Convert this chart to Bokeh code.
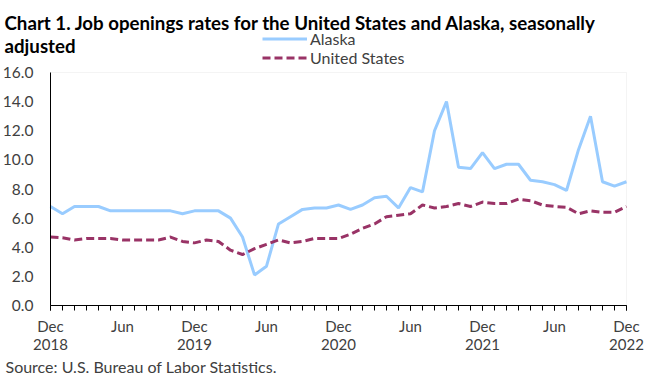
from bokeh.plotting import figure
from bokeh.models import (FixedTicker, Label, Legend, LegendItem, NumeralTickFormatter,
                          ColumnDataSource, LinearAxis, BoxAnnotation)
from bokeh.embed import file_html
from bokeh.resources import INLINE

# Monthly data, Dec 2018 .. Dec 2022
alaska = [6.8, 6.3, 6.8, 6.8, 6.8, 6.5, 6.5, 6.5, 6.5, 6.5, 6.5, 6.3,
          6.5, 6.5, 6.5, 6.0, 4.7, 2.1, 2.7, 5.6, 6.1, 6.6, 6.7, 6.7,
          6.9, 6.6, 6.9, 7.4, 7.5, 6.7, 8.1, 7.8, 12.0, 14.0, 9.5, 9.4,
          10.5, 9.4, 9.7, 9.7, 8.6, 8.5, 8.3, 7.9, 10.7, 13.0, 8.5, 8.2,
          8.5]
united_states = [4.7, 4.65, 4.5, 4.6, 4.6, 4.6, 4.5, 4.5, 4.5, 4.5, 4.7, 4.4,
                 4.3, 4.5, 4.4, 3.8, 3.5, 3.9, 4.2, 4.5, 4.3, 4.4, 4.6, 4.6,
                 4.6, 4.9, 5.3, 5.6, 6.1, 6.2, 6.3, 6.9, 6.7, 6.8, 7.0, 6.8,
                 7.1, 7.0, 7.0, 7.3, 7.2, 6.9, 6.8, 6.75, 6.3, 6.5, 6.4, 6.4,
                 6.8]
month_labels = ["Dec", "Jun", "Dec", "Jun", "Dec", "Jun", "Dec", "Jun", "Dec"]
year_labels = ["2018", "2019", "2020", "2021", "2022"]
y_ticks = [0, 2, 4, 6, 8, 10, 12, 14, 16]

TITLE = "Chart 1. Job openings rates for the United States and Alaska, seasonally"
SOURCE = "Source: U.S. Bureau of Labor Statistics."

AK_COLOR = "#99ccff"
US_COLOR = "#993366"
US_DASH = "8 4"
FONT = "Lato"
TXT = "#404040"

months = list(range(len(alaska)))
src = ColumnDataSource(dict(m=months, ak=alaska, us=united_states))

W, H = 663, 375
LEFT, RIGHT = 50, 626          # pixel positions of the plot area
TOP, BOTTOM = 72, 305
m0, m1 = months[0], months[-1]
v0, v1 = y_ticks[0], y_ticks[-1]
px_per_m = (RIGHT - LEFT) / (m1 - m0)
px_per_v = (BOTTOM - TOP) / (v1 - v0)

# The frame covers the whole canvas; the axes sit at fixed locations inside it.
p = figure(width=W, height=H, output_backend="svg", toolbar_location=None,
           x_range=(m0 - LEFT / px_per_m, m1 + (W - RIGHT) / px_per_m),
           y_range=(v0 - (H - BOTTOM) / px_per_v, v1 + TOP / px_per_v),
           min_border=0, min_border_left=0, min_border_right=0,
           min_border_top=0, min_border_bottom=0,
           x_axis_type=None, y_axis_type=None)
p.outline_line_color = None
p.background_fill_color = "white"
p.border_fill_color = "white"

# plot-area border (light gray)
p.add_layout(BoxAnnotation(left=m0, right=m1, bottom=v0, top=v1, fill_color=None,
                           line_color="#d9d9d9", line_width=1, level="underlay",
                           editable=False))

ak = p.line("m", "ak", source=src, line_color=AK_COLOR, line_width=3)
us = p.line("m", "us", source=src, line_color=US_COLOR, line_width=3, line_dash=US_DASH)

# x axis: months
xaxis = LinearAxis(fixed_location=v0, bounds=(m0, m1),
                   ticker=FixedTicker(ticks=list(range(m0, m1 + 1, 6)),
                                      minor_ticks=list(range(m0, m1 + 1))),
                   major_label_overrides={i * 6: t for i, t in enumerate(month_labels)},
                   axis_line_color="black", major_tick_in=0, major_tick_out=5,
                   minor_tick_in=0, minor_tick_out=5,
                   major_tick_line_color="black", minor_tick_line_color="black",
                   major_label_text_font=FONT, major_label_text_font_size="15px",
                   major_label_text_color=TXT, major_label_standoff=6)
p.add_layout(xaxis, "below")

# x axis: years (second row)
year_axis = LinearAxis(fixed_location=v0, bounds=(m0, m1),
                       ticker=FixedTicker(ticks=list(range(m0, m1 + 1, 12))),
                       major_label_overrides={i * 12: t for i, t in enumerate(year_labels)},
                       axis_line_color=None, major_tick_line_color=None,
                       minor_tick_line_color=None, major_tick_in=0, major_tick_out=0,
                       minor_tick_in=0, minor_tick_out=0,
                       major_label_text_font=FONT, major_label_text_font_size="15px",
                       major_label_text_color=TXT, major_label_standoff=33)
p.add_layout(year_axis, "below")

# y axis
yaxis = LinearAxis(fixed_location=m0, bounds=(v0, v1),
                   ticker=FixedTicker(ticks=y_ticks),
                   formatter=NumeralTickFormatter(format="0.0"),
                   axis_line_color="black", major_tick_in=0, major_tick_out=0,
                   minor_tick_line_color=None, major_tick_line_color=None,
                   major_label_text_font=FONT, major_label_text_font_size="15.5px",
                   major_label_text_color=TXT, major_label_standoff=17)
p.add_layout(yaxis, "left")

p.xgrid.grid_line_color = None
p.ygrid.grid_line_color = "#d9d9d9"
p.ygrid.grid_line_dash = "3 2"
p.ygrid.ticker = FixedTicker(ticks=y_ticks)
p.ygrid.cross_bounds = (m0, m1)
p.ygrid.level = "underlay"

# title lines and source (screen units, origin at bottom-left of canvas)
for txt, y in [(TITLE, H - 22), ("adjusted", H - 45)]:
    p.add_layout(Label(x=4, y=y, x_units="screen", y_units="screen", text=txt,
                       text_font=FONT, text_font_style="bold", text_font_size="18.7px",
                       text_color="black", text_baseline="alphabetic"))
p.add_layout(Label(x=5, y=H - 366, x_units="screen", y_units="screen", text=SOURCE,
                   text_font=FONT, text_font_size="16px", text_color=TXT,
                   text_baseline="alphabetic"))

legend = Legend(items=[LegendItem(label="Alaska", renderers=[ak]),
                       LegendItem(label="United States", renderers=[us])],
                location=(262, H - 67), orientation="vertical",
                background_fill_alpha=0, border_line_color=None,
                label_text_font=FONT, label_text_font_size="16px",
                label_text_color=TXT, glyph_width=45, glyph_height=19,
                label_height=19, label_standoff=3, spacing=0, padding=0, margin=0)
p.add_layout(legend, "center")

open("out.html", "w").write(file_html(p, INLINE))
